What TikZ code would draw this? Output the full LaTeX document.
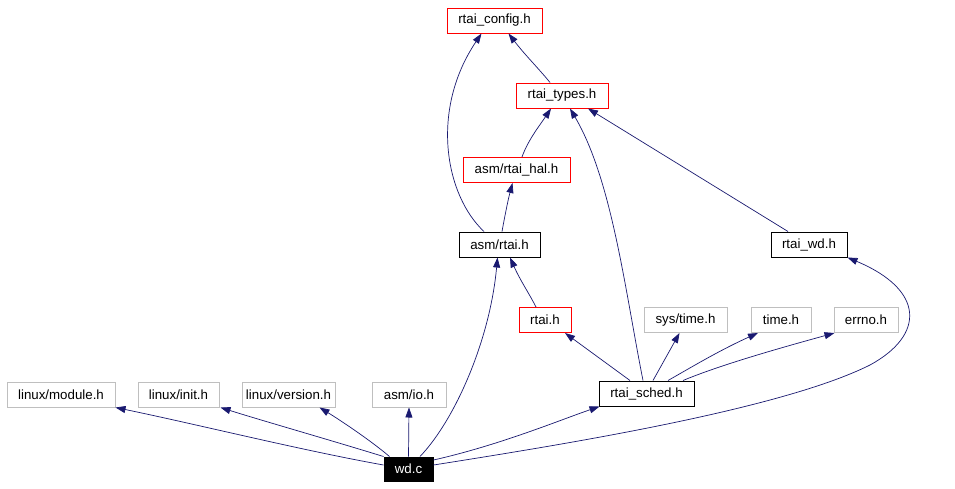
\documentclass[tikz,border=0pt]{standalone}
\usepackage{fontspec}
\setmainfont{Liberation Sans}
\usetikzlibrary{arrows.meta}
\definecolor{edgeblue}{HTML}{191970}
\definecolor{boxred}{HTML}{FF0000}
\definecolor{boxgray}{HTML}{BFBFBF}
\tikzset{
  hdr/.style={draw, line width=1pt, minimum height=25pt, inner sep=0pt, font=\fontsize{13.3pt}{14pt}\selectfont, anchor=center},
  redbox/.style={hdr, draw=boxred},
  blackbox/.style={hdr, draw=black},
  graybox/.style={hdr, draw=boxgray},
  rootbox/.style={hdr, fill=black, draw=black, text=white, minimum height=24pt},
  inc/.style={draw=edgeblue, line width=0.7pt, -{Triangle[length=10pt,width=7pt]}, fill=none},
}
\begin{document}
\begin{tikzpicture}[x=1pt,y=-1pt]
\useasboundingbox (0,0) rectangle (955,488);
\fill[white] (0,0) rectangle (955,488);
% nodes
\node[redbox, minimum width=95pt] (config) at (494.5,20.5) {rtai\_config.h};
\node[redbox, minimum width=92pt] (types) at (562,95.5) {rtai\_types.h};
\node[redbox, minimum width=107pt] (hal) at (516.5,170) {asm/rtai\_hal.h};
\node[blackbox, minimum width=81pt] (asmrtai) at (499.5,244.5) {asm/rtai.h};
\node[blackbox, minimum width=76pt] (wd) at (809,244.5) {rtai\_wd.h};
\node[redbox, minimum width=52pt] (rtai) at (545,320) {rtai.h};
\node[graybox, minimum width=83pt] (systime) at (685.5,320) {sys/time.h};
\node[graybox, minimum width=60pt] (time) at (781,320) {time.h};
\node[graybox, minimum width=64pt] (errno) at (866,320) {errno.h};
\node[blackbox, minimum width=95pt] (sched) at (646.5,393.5) {rtai\_sched.h};
\node[graybox, minimum width=108pt] (module) at (61,394.5) {linux/module.h};
\node[graybox, minimum width=81pt] (init) at (178.5,394.5) {linux/init.h};
\node[graybox, minimum width=93pt] (version) at (288.5,394.5) {linux/version.h};
\node[graybox, minimum width=74pt] (io) at (409,394.5) {asm/io.h};
\node[rootbox, minimum width=49pt] (wdc) at (408.5,469) {wd.c};
% edges
\draw[inc] ([yshift=4pt]wdc.west) .. controls (300,450) and (200,425) .. (module.south east);
\draw[inc] (wdc.north west) .. controls (330,440) and (260,420) .. ([xshift=1pt]init.south east);
\draw[inc] ([xshift=6pt]wdc.north west) .. controls (370,440) and (340,420) .. ([xshift=31pt]version.south);
\draw[inc] (wdc.north) -- (io.south);
\draw[inc] ([xshift=11.5pt]wdc.north) .. controls (455,420) and (490,340) .. ([xshift=-2pt]asmrtai.south);
\draw[inc] ([yshift=9pt]wdc.east) .. controls (500,445) and (560,420) .. ([xshift=1pt]sched.south west);
\draw[inc] ([yshift=4pt]wdc.east) .. controls (560,445) and (780,410) .. (870,365) .. controls (925,335) and (925,290) .. (wd.south east);
\draw[inc] ([xshift=-16.5pt]sched.north) -- ([xshift=20pt]rtai.south);
\draw[inc] ([xshift=6.5pt]sched.north) -- ([xshift=-6pt]systime.south);
\draw[inc] ([xshift=21.5pt]sched.north) .. controls (690,368) and (720,350) .. ([xshift=-23pt]time.south);
\draw[inc] ([xshift=36.5pt]sched.north) .. controls (720,365) and (780,348) .. ([xshift=1pt]errno.south west);
\draw[inc] ([xshift=-3.5pt]sched.north) .. controls (625,290) and (612,180) .. ([xshift=8pt]types.south);
\draw[inc] ([xshift=-9pt]rtai.north) .. controls (530,295) and (520,280) .. ([xshift=10.5pt]asmrtai.south);
\draw[inc] ([xshift=2.5pt]asmrtai.north) .. controls (505,215) and (508,200) .. ([xshift=-4pt]hal.south);
\draw[inc] ([xshift=-15.5pt]asmrtai.north) .. controls (445,195) and (430,110) .. ([xshift=-13pt]config.south);
\draw[inc] ([xshift=5.5pt]hal.north) .. controls (528,140) and (540,125) .. ([xshift=-11pt]types.south);
\draw[inc] ([xshift=-21pt]wd.north) -- ([xshift=26pt]types.south);
\draw[inc] ([xshift=-12pt]types.north) .. controls (540,70) and (525,55) .. ([xshift=14pt]config.south);
\end{tikzpicture}
\end{document}
